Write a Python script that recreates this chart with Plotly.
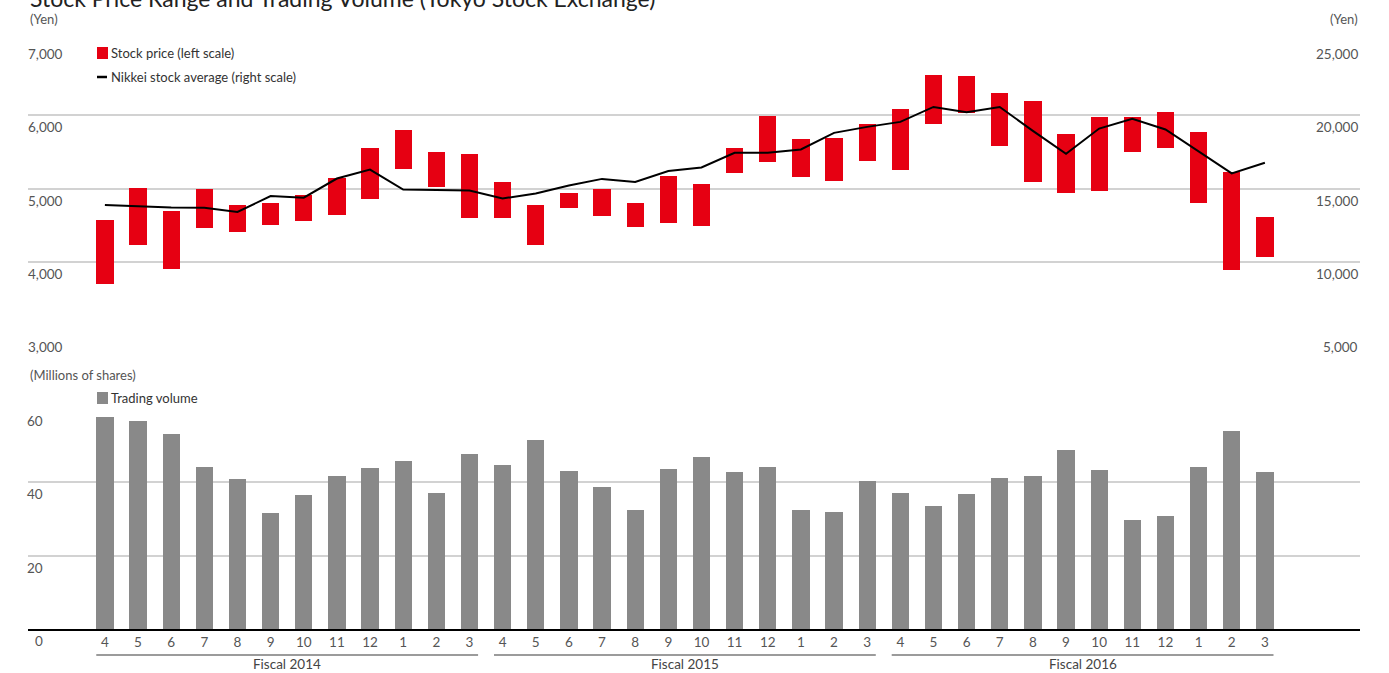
import plotly.graph_objects as go

# ---- data ----
months = ["4", "5", "6", "7", "8", "9", "10", "11", "12", "1", "2", "3"] * 3
fiscal_years = ["Fiscal 2014", "Fiscal 2015", "Fiscal 2016"]

price_high = [4575, 5009, 4697, 4995, 4778, 4805, 4914, 5145, 5552, 5796, 5498, 5471,
              5090, 4778, 4941, 4995, 4805, 5172, 5061, 5551, 5986, 5673, 5687, 5878,
              6082, 6544, 6531, 6299, 6190, 5741, 5973, 5973, 6041, 5769, 5224, 4612]
price_low = [3697, 4226, 3898, 4457, 4403, 4498, 4552, 4633, 4851, 5271, 5014, 4593,
             4593, 4226, 4729, 4620, 4471, 4525, 4494, 5215, 5365, 5161, 5107, 5379,
             5256, 5882, 6032, 5583, 5093, 4943, 4971, 5501, 5556, 4807, 3882, 4059]
nikkei = [13880, 13778, 13700, 13688, 13405, 14480, 14370, 15679, 16289, 14932, 14887, 14864,
          14321, 14661, 15204, 15656, 15452, 16199, 16432, 17437, 17437, 17664, 18798, 19206,
          19546, 20567, 20204, 20567, 18934, 17369, 19093, 19751, 19025, 17505, 16031, 16757]
volume = [57.8, 56.7, 53.2, 44.2, 40.9, 31.6, 36.5, 41.7, 43.9, 45.8, 37.1, 47.7,
          44.7, 51.5, 43.1, 38.7, 32.5, 43.6, 46.9, 42.8, 44.2, 32.5, 31.9, 40.4,
          37.1, 33.5, 36.8, 41.2, 41.7, 48.8, 43.4, 29.7, 30.8, 44.2, 54.0, 42.8]

left_ticks = [3000, 4000, 5000, 6000, 7000]
right_ticks = [5000, 10000, 15000, 20000, 25000]
volume_ticks = [0, 20, 40, 60]

# ---- styling ----
W, H = 1389, 673
FONT = "Lato, 'Open Sans', sans-serif"
RED = "#E60012"
GREY_BAR = "#898989"
GRID = "#d2d2d2"
LABEL = "#555555"
BAR_W = 0.52

x = list(range(len(months)))
x_range = [-2.32, 37.87]
x_dom = [28 / W, 1360 / W]


def py(px):
    """Convert a pixel row (from the top) to paper y."""
    return 1 - px / H


fig = go.Figure()

# stock price range bars (low -> high)
fig.add_trace(go.Bar(
    x=x, y=[h - l for h, l in zip(price_high, price_low)], base=price_low,
    width=BAR_W, marker=dict(color=RED, line=dict(width=0)),
    xaxis="x", yaxis="y", showlegend=False,
))
# Nikkei average on the right scale
fig.add_trace(go.Scatter(
    x=x, y=nikkei, mode="lines", line=dict(color="#000000", width=2),
    xaxis="x", yaxis="y3", showlegend=False,
))
# trading volume
fig.add_trace(go.Bar(
    x=x, y=volume, width=BAR_W, marker=dict(color=GREY_BAR, line=dict(width=0)),
    xaxis="x2", yaxis="y2", showlegend=False,
))

annotations = []
shapes = []

# left / right scale labels sit just under each gridline
for v in left_ticks:
    annotations.append(dict(x=65 / W, xref="paper", xanchor="right", y=v, yref="y",
                            yanchor="top", yshift=-2, text=f"{v:,}", showarrow=False,
                            font=dict(size=13.5, color=LABEL, family=FONT)))
for v in right_ticks:
    annotations.append(dict(x=1360 / W, xref="paper", xanchor="right", y=v, yref="y3",
                            yanchor="top", yshift=-2, text=f"{v:,}", showarrow=False,
                            font=dict(size=13.5, color=LABEL, family=FONT)))
for v in volume_ticks:
    annotations.append(dict(x=45 / W, xref="paper", xanchor="right", y=v, yref="y2",
                            yanchor="top", yshift=-2, text=str(v), showarrow=False,
                            font=dict(size=13.5, color=LABEL, family=FONT)))

# title and unit captions
annotations += [
    dict(x=28 / W, xref="paper", xanchor="left", y=py(-2), yref="paper", yanchor="middle",
         text="Stock Price Range and Trading Volume (Tokyo Stock Exchange)", showarrow=False,
         font=dict(size=23, color="#222222", family=FONT)),
    dict(x=28 / W, xref="paper", xanchor="left", y=py(19), yref="paper", yanchor="middle",
         text="(Yen)", showarrow=False, font=dict(size=13, color=LABEL, family=FONT)),
    dict(x=1360 / W, xref="paper", xanchor="right", y=py(19), yref="paper", yanchor="middle",
         text="(Yen)", showarrow=False, font=dict(size=13, color=LABEL, family=FONT)),
    dict(x=28 / W, xref="paper", xanchor="left", y=py(375), yref="paper", yanchor="middle",
         text="(Millions of shares)", showarrow=False, font=dict(size=13, color=LABEL, family=FONT)),
]

# legend keys
legend_items = [
    ("Stock price (left scale)", 53),
    ("Nikkei stock average (right scale)", 77),
    ("Trading volume", 398),
]
for text, row in legend_items:
    annotations.append(dict(x=109 / W, xref="paper", xanchor="left", y=py(row), yref="paper",
                            yanchor="middle", text=text, showarrow=False,
                            font=dict(size=13, color="#333333", family=FONT)))
shapes += [
    dict(type="rect", xref="paper", yref="paper", x0=97 / W, x1=108 / W, y0=py(59), y1=py(47),
         fillcolor=RED, line=dict(width=0)),
    dict(type="line", xref="paper", yref="paper", x0=97 / W, x1=107 / W, y0=py(77), y1=py(77),
         line=dict(color="#000000", width=2.5)),
    dict(type="rect", xref="paper", yref="paper", x0=97 / W, x1=108 / W, y0=py(404), y1=py(392),
         fillcolor=GREY_BAR, line=dict(width=0)),
]

# fiscal year brackets under the month labels
for k, fy in enumerate(fiscal_years):
    first, last = 12 * k, 12 * k + 11
    shapes.append(dict(type="line", xref="x2", yref="paper",
                       x0=first - BAR_W / 2, x1=last + BAR_W / 2, y0=py(655), y1=py(655),
                       line=dict(color="#7a7a7a", width=1.5)))
    annotations.append(dict(x=(first + last) / 2, xref="x2", xanchor="center", y=py(664),
                            yref="paper", yanchor="middle", text=fy, showarrow=False,
                            font=dict(size=13.5, color="#444444", family=FONT)))

fig.update_layout(
    width=W, height=H, autosize=False,
    margin=dict(l=0, r=0, t=0, b=0),
    paper_bgcolor="white", plot_bgcolor="white",
    font=dict(family=FONT, color=LABEL),
    bargap=0, barmode="overlay",
    xaxis=dict(domain=x_dom, range=x_range, anchor="y", showticklabels=False,
               showgrid=False, zeroline=False, showline=False, fixedrange=True),
    yaxis=dict(domain=[py(335), py(42)], range=[3000, 7000], tickvals=left_ticks,
               showticklabels=False, showgrid=True, gridcolor=GRID, gridwidth=1.5,
               zeroline=False, showline=False, anchor="x"),
    yaxis3=dict(overlaying="y", side="right", range=[5000, 25000], showticklabels=False,
                showgrid=False, zeroline=False, showline=False, anchor="x"),
    xaxis2=dict(domain=x_dom, range=x_range, anchor="y2", tickvals=x, ticktext=months,
                tickfont=dict(size=13.5, color=LABEL, family=FONT), ticks="",
                showgrid=False, zeroline=False, showline=True, linecolor="#000000",
                linewidth=1.5),
    yaxis2=dict(domain=[py(629), py(409)], range=[0, 60], tickvals=volume_ticks,
                showticklabels=False, showgrid=True, gridcolor=GRID, gridwidth=1.5,
                zeroline=False, showline=False, anchor="x2"),
    annotations=annotations,
    shapes=shapes,
)

fig.write_html("out.html")
